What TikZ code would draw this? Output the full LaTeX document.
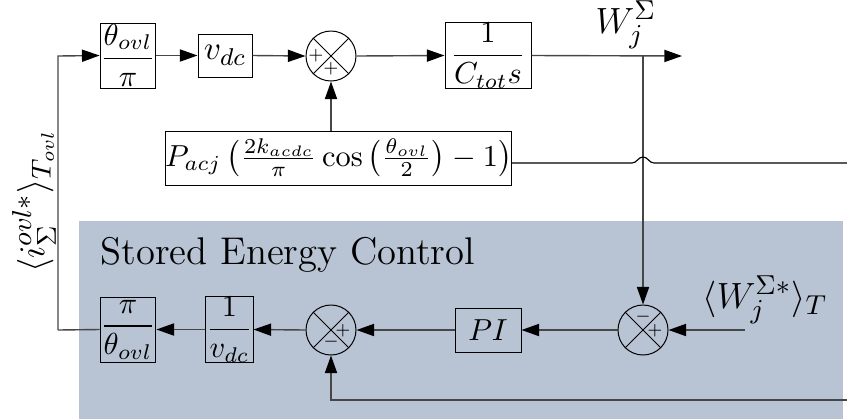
\documentclass[tikz,border=0pt]{standalone}
\usepackage{amsmath}
\usetikzlibrary{arrows.meta}
\definecolor{secfill}{RGB}{184,195,212}
\definecolor{wirec}{RGB}{70,70,70}
\def\pxu{0.3289pt}
\begin{document}
\begin{tikzpicture}[x=0.3289pt,y=-0.3289pt,
  blk/.style={draw=black,line width=0.33pt,inner sep=0pt},
  sumnode/.style={circle,draw=black,line width=0.33pt,minimum size=50*\pxu,inner sep=0pt},
  wire/.style={draw=wirec,line width=0.46pt},
  arr/.style={wire,-{Triangle[length=5.8pt,width=4pt,color=black]}},
  sgn/.style={font=\fontsize{5.5}{6}\selectfont,inner sep=0pt},
  lbl/.style={inner sep=0pt,font=\fontsize{12.3}{15}\selectfont}]
\useasboundingbox (0,0) rectangle (847,418);
% stored energy control region
\fill[secfill] (79,221) rectangle (843,420);
\node[lbl,anchor=base west,font=\fontsize{12.7}{15}\selectfont] (title) at (100,264) {Stored Energy Control};

% top row
\node[blk,minimum width=54*\pxu,minimum height=65*\pxu] (b1) at (128,55.5) {$\dfrac{\theta_{ovl}}{\pi}$};
\node[blk,minimum width=54*\pxu,minimum height=43*\pxu,font=\fontsize{11}{13}\selectfont] (b2) at (225,55.5) {$v_{dc}$};
\node[sumnode] (s1) at (331,56) {};
\node[blk,minimum width=345*\pxu,minimum height=54*\pxu] (b3) at (338.5,158) {$P_{acj}\left(\frac{2k_{acdc}}{\pi}\cos\left(\frac{\theta_{ovl}}{2}\right)-1\right)$};
\node[blk,minimum width=86*\pxu,minimum height=65*\pxu] (b4) at (488,55.5) {$\dfrac{1}{C_{tot}s}$};
\coordinate (out) at (682,56);
\coordinate (br) at (643,56);
\node[lbl,anchor=base] (wlab) at (626,33) {$W_j^{\Sigma}$};

% bottom row
\node[blk,minimum width=54*\pxu,minimum height=65*\pxu] (b5) at (128,329.5) {$\dfrac{\pi}{\theta_{ovl}}$};
\node[blk,minimum width=43*\pxu,minimum height=65*\pxu] (b6) at (229.5,329.5) {$\dfrac{1}{v_{dc}}$};
\node[sumnode] (s2) at (331,330) {};
\node[blk,minimum width=66*\pxu,minimum height=44*\pxu] (b7) at (488,330) {$PI$};
\node[sumnode] (s3) at (643,330) {};
\coordinate (in) at (745,330);
\node[lbl,anchor=base] (wref) at (765,308) {$\langle W_j^{\Sigma *}\rangle_T$};
\node[lbl,rotate=90] (ilab) at (34,201) {$\langle i_\Sigma^{ovl*}\rangle_{T_{ovl}}$};

% crosses in summing junctions
\foreach \s in {s1,s2,s3}{
  \draw[line width=0.33pt] (\s.45) -- (\s.225) (\s.135) -- (\s.315);
}
% signs
\node[sgn] at (316,56) {$+$};
\node[sgn] at (331,69) {$+$};
\node[sgn] at (343,331) {$+$};
\node[sgn] at (331,342) {$-$};
\node[sgn] at (643,317) {$-$};
\node[sgn] at (655,331) {$+$};

% connectors top
\coordinate (lc) at (58,330);
\coordinate (lt) at (58,56);
\draw[wire] (b5.west) -- (lc);
\draw[arr] (lc) -- (lt) -- (b1.west);
\draw[arr] (b1.east) -- (b2.west);
\draw[arr] (b2.east) -- (s1.west);
\draw[arr] (s1.east) -- (b4.west);
\draw[arr] (b4.east) -- (out);
\draw[arr] (s1.south |- b3.north) -- (s1.south);
\draw[arr] (br) -- (s3.north);
% P_acj line with hop
\coordinate (pa) at (511,163);
\coordinate (pe) at (848,163);
\draw[draw=black,line width=0.38pt] (pa) -- (632,163) .. controls (637,163) and (638,157) .. (643,157) .. controls (648,157) and (649,163) .. (654,163) -- (pe);

% connectors bottom
\draw[arr] (in) -- (s3.east);
\draw[arr] (s3.west) -- (b7.east);
\draw[arr] (b7.west) -- (s2.east);
\draw[arr] (s2.west) -- (b6.east);
\draw[arr] (b6.west) -- (b5.east);
\coordinate (fb) at (848,400);
\draw[arr] (fb) -| (s2.south);
\end{tikzpicture}
\end{document}
